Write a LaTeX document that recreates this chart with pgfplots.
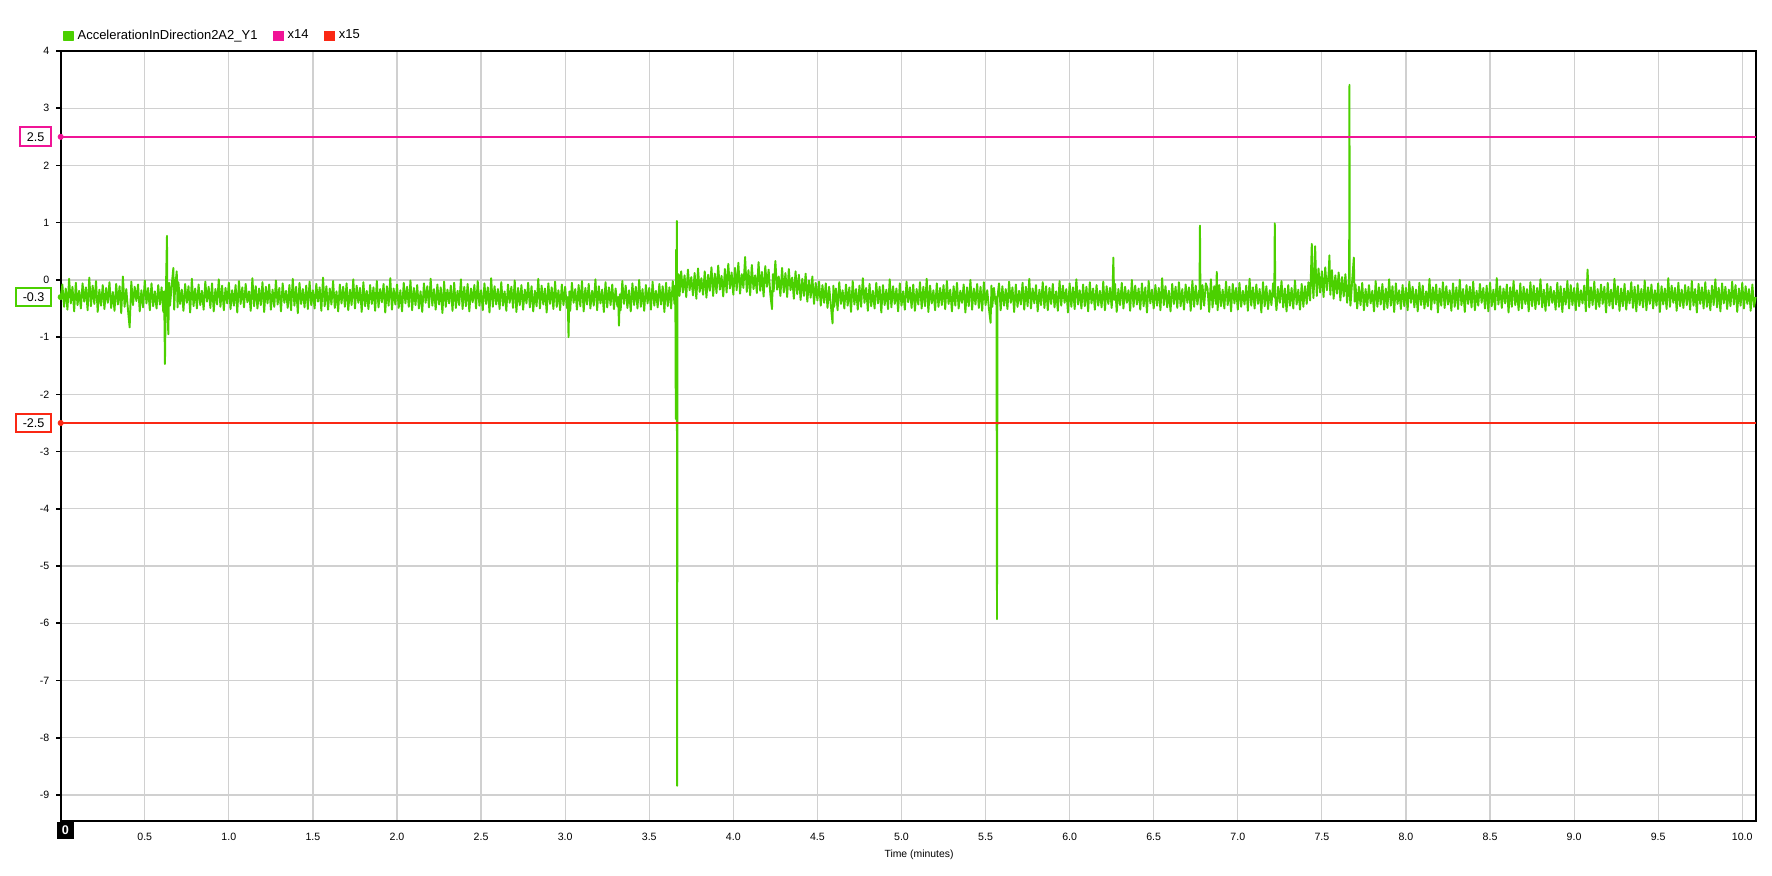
\documentclass[border=0pt]{standalone}
\usepackage{pgfplots}
\pgfplotsset{compat=1.18}
\usepackage{fontspec}
\setmainfont{Liberation Sans}
\definecolor{sig}{RGB}{75,208,0}
\definecolor{hi}{RGB}{240,20,150}
\definecolor{lo}{RGB}{250,40,20}
\definecolor{gridc}{RGB}{208,208,208}

\begin{document}
\begin{tikzpicture}[x=0.5pt,y=0.5pt]
\useasboundingbox (0,0) rectangle (1772,875);
\begin{axis}[
  at={(30.35pt,26.85pt)}, anchor=south west,
  scale only axis, width=847.5pt, height=385.15pt,
  xmin=0, xmax=10.08, ymin=-9.46, ymax=4,
  clip=false,
  axis line style={black, line width=0.9pt},
  grid=major, major grid style={gridc, line width=0.6pt},
  xtick={0.5,1.0,1.5,2.0,2.5,3.0,3.5,4.0,4.5,5.0,5.5,6.0,6.5,7.0,7.5,8.0,8.5,9.0,9.5,10.0},
  ytick={-9,-8,-7,-6,-5,-4,-3,-2,-1,0,1,2,3,4},
  xtick pos=bottom, ytick pos=left,
  x tick style={draw=none},
  y tick style={black, line width=0.8pt},
  tick align=outside, major tick length=2.2pt,
  xticklabel style={/pgf/number format/.cd, fixed, fixed zerofill, precision=1},
  tick label style={font=\fontsize{5.3}{6}\selectfont},
  /pgf/number format/assume math mode=true,
  xlabel={Time (minutes)},
  xlabel style={font=\fontsize{5.2}{6}\selectfont, at={(axis description cs:0.5,0)}, anchor=center, yshift=-16.6pt, xshift=5.4pt},
  legend style={at={(0,1)}, anchor=west, yshift=7.5pt, xshift=0.8pt, draw=none, fill=none, inner sep=0pt,
    font=\fontsize{6.5}{7.5}\selectfont, legend columns=-1,
    /tikz/every even column/.append style={column sep=5.8pt}},
  legend image code/.code={\fill[#1] (0pt,-2.25pt) rectangle (4.5pt,2.25pt);},
]

% measured signal
\addplot[sig, line width=0.95pt, line join=round] coordinates {
(0.00,-0.30)(0.01,-0.08)(0.02,-0.47)(0.03,-0.15)(0.04,-0.52)(0.05,0.02)(0.06,-0.41)(0.07,-0.12)(0.08,-0.55)(0.09,-0.05)
(0.10,-0.44)(0.11,-0.19)(0.12,-0.50)(0.13,-0.06)(0.14,-0.38)(0.15,-0.13)(0.16,-0.53)(0.17,0.04)(0.18,-0.46)(0.19,-0.10)
(0.20,-0.42)(0.21,-0.02)(0.22,-0.56)(0.23,-0.17)(0.24,-0.45)(0.25,-0.09)(0.26,-0.51)(0.27,-0.14)(0.28,-0.40)(0.29,-0.04)
(0.30,-0.49)(0.31,-0.21)(0.32,-0.54)(0.33,-0.07)(0.34,-0.43)(0.35,-0.11)(0.36,-0.58)(0.37,0.06)(0.38,-0.47)(0.39,-0.16)
(0.40,-0.52)(0.41,-0.83)(0.42,-0.03)(0.43,-0.44)(0.44,-0.12)(0.45,-0.37)(0.46,-0.08)(0.47,-0.55)(0.48,-0.18)(0.49,-0.48)
(0.50,-0.01)(0.51,-0.41)(0.52,-0.14)(0.53,-0.53)(0.54,-0.06)(0.55,-0.46)(0.56,-0.20)(0.57,-0.50)(0.58,-0.09)(0.59,-0.43)
(0.60,-0.13)(0.61,-0.56)(0.615,-0.20)(0.62,-1.47)(0.625,-0.30)(0.632,0.77)(0.635,-0.50)(0.64,-0.95)(0.645,-0.05)(0.65,-0.45)(0.66,-0.10)(0.67,0.21)(0.675,-0.52)(0.68,-0.15)(0.69,0.15)(0.695,-0.48)
(0.70,-0.04)(0.71,-0.42)(0.72,-0.17)(0.73,-0.54)(0.74,-0.07)(0.75,-0.40)(0.76,-0.11)(0.77,-0.57)(0.78,0.02)(0.79,-0.46)
(0.80,-0.15)(0.81,-0.50)(0.82,-0.08)(0.83,-0.44)(0.84,-0.19)(0.85,-0.52)(0.86,-0.03)(0.87,-0.38)(0.88,-0.12)(0.89,-0.49)
(0.90,-0.06)(0.91,-0.55)(0.92,-0.16)(0.93,-0.43)(0.94,0.01)(0.95,-0.47)(0.96,-0.10)(0.97,-0.53)(0.98,-0.14)(0.99,-0.41)
(1.00,-0.05)(1.01,-0.51)(1.02,-0.18)(1.03,-0.45)(1.04,-0.09)(1.05,-0.57)(1.06,-0.02)(1.07,-0.42)(1.08,-0.13)(1.09,-0.48)
(1.10,-0.07)(1.11,-0.39)(1.12,-0.20)(1.13,-0.54)(1.14,0.03)(1.15,-0.46)(1.16,-0.11)(1.17,-0.50)(1.18,-0.15)(1.19,-0.44)
(1.20,-0.04)(1.21,-0.56)(1.22,-0.12)(1.23,-0.41)(1.24,-0.08)(1.25,-0.52)(1.26,-0.17)(1.27,-0.47)(1.28,-0.01)(1.29,-0.43)
(1.30,-0.14)(1.31,-0.55)(1.32,-0.06)(1.33,-0.40)(1.34,-0.19)(1.35,-0.49)(1.36,-0.09)(1.37,-0.53)(1.38,0.02)(1.39,-0.45)
(1.40,-0.12)(1.41,-0.58)(1.42,-0.05)(1.43,-0.42)(1.44,-0.16)(1.45,-0.48)(1.46,-0.10)(1.47,-0.51)(1.48,-0.03)(1.49,-0.44)
(1.50,-0.18)(1.51,-0.50)(1.52,-0.07)(1.53,-0.38)(1.54,-0.13)(1.55,-0.54)(1.56,0.04)(1.57,-0.46)(1.58,-0.11)(1.59,-0.52)
(1.60,-0.15)(1.61,-0.43)(1.62,-0.02)(1.63,-0.49)(1.64,-0.20)(1.65,-0.55)(1.66,-0.08)(1.67,-0.41)(1.68,-0.12)(1.69,-0.47)
(1.70,-0.06)(1.71,-0.53)(1.72,-0.17)(1.73,-0.44)(1.74,0.01)(1.75,-0.50)(1.76,-0.10)(1.77,-0.40)(1.78,-0.14)(1.79,-0.56)
(1.80,-0.04)(1.81,-0.46)(1.82,-0.19)(1.83,-0.51)(1.84,-0.09)(1.85,-0.42)(1.86,-0.13)(1.87,-0.54)(1.88,-0.02)(1.89,-0.48)
(1.90,-0.16)(1.91,-0.39)(1.92,-0.07)(1.93,-0.57)(1.94,-0.11)(1.95,-0.45)(1.96,0.03)(1.97,-0.52)(1.98,-0.15)(1.99,-0.43)
(2.00,-0.08)(2.01,-0.49)(2.02,-0.18)(2.03,-0.55)(2.04,-0.05)(2.05,-0.41)(2.06,-0.12)(2.07,-0.47)(2.08,-0.01)(2.09,-0.53)
(2.10,-0.14)(2.11,-0.44)(2.12,-0.09)(2.13,-0.50)(2.14,-0.20)(2.15,-0.56)(2.16,-0.06)(2.17,-0.40)(2.18,-0.11)(2.19,-0.48)
(2.20,0.02)(2.21,-0.45)(2.22,-0.16)(2.23,-0.52)(2.24,-0.08)(2.25,-0.43)(2.26,-0.13)(2.27,-0.58)(2.28,-0.03)(2.29,-0.47)
(2.30,-0.17)(2.31,-0.41)(2.32,-0.10)(2.33,-0.54)(2.34,-0.05)(2.35,-0.49)(2.36,-0.19)(2.37,-0.44)(2.38,0.01)(2.39,-0.51)
(2.40,-0.12)(2.41,-0.46)(2.42,-0.07)(2.43,-0.55)(2.44,-0.15)(2.45,-0.39)(2.46,-0.09)(2.47,-0.50)(2.48,-0.02)(2.49,-0.45)
(2.50,-0.18)(2.51,-0.53)(2.52,-0.06)(2.53,-0.42)(2.54,-0.13)(2.55,-0.57)(2.56,0.03)(2.57,-0.47)(2.58,-0.11)(2.59,-0.43)
(2.60,-0.16)(2.61,-0.51)(2.62,-0.04)(2.63,-0.45)(2.64,-0.20)(2.65,-0.54)(2.66,-0.08)(2.67,-0.40)(2.68,-0.12)(2.69,-0.49)
(2.70,-0.01)(2.71,-0.56)(2.72,-0.14)(2.73,-0.44)(2.74,-0.09)(2.75,-0.52)(2.76,-0.17)(2.77,-0.41)(2.78,-0.05)(2.79,-0.48)
(2.80,-0.11)(2.81,-0.55)(2.82,-0.19)(2.83,-0.46)(2.84,0.02)(2.85,-0.50)(2.86,-0.10)(2.87,-0.43)(2.88,-0.15)(2.89,-0.57)
(2.90,-0.06)(2.91,-0.42)(2.92,-0.13)(2.93,-0.51)(2.94,-0.03)(2.95,-0.47)(2.96,-0.18)(2.97,-0.53)(2.98,-0.08)(2.99,-0.44)
(3.00,-0.12)(3.01,-0.49)(3.015,-0.30)(3.02,-1.00)(3.025,-0.20)(3.03,-0.54)(3.04,-0.05)(3.05,-0.40)(3.06,-0.16)(3.07,-0.52)(3.08,-0.09)(3.09,-0.46)
(3.10,-0.02)(3.11,-0.55)(3.12,-0.14)(3.13,-0.43)(3.14,-0.07)(3.15,-0.50)(3.16,-0.19)(3.17,-0.45)(3.18,0.01)(3.19,-0.53)
(3.20,-0.11)(3.21,-0.41)(3.22,-0.17)(3.23,-0.56)(3.24,-0.04)(3.25,-0.48)(3.26,-0.13)(3.27,-0.44)(3.28,-0.08)(3.29,-0.51)
(3.30,-0.15)(3.31,-0.46)(3.315,-0.30)(3.32,-0.80)(3.325,-0.25)(3.33,-0.53)(3.34,-0.02)(3.35,-0.42)(3.36,-0.10)(3.37,-0.49)(3.38,-0.18)(3.39,-0.55)
(3.40,-0.06)(3.41,-0.44)(3.42,-0.12)(3.43,-0.50)(3.44,0.00)(3.45,-0.47)(3.46,-0.16)(3.47,-0.54)(3.48,-0.09)(3.49,-0.41)
(3.50,-0.14)(3.51,-0.52)(3.52,-0.03)(3.53,-0.45)(3.54,-0.19)(3.55,-0.48)(3.56,-0.07)(3.57,-0.43)(3.58,-0.11)(3.59,-0.56)
(3.60,-0.05)(3.61,-0.46)(3.62,-0.13)(3.63,-0.50)(3.64,-0.02)(3.65,-0.42)(3.655,-0.10)(3.658,-2.43)(3.660,0.53)(3.662,-0.40)(3.664,1.03)(3.666,-8.84)(3.668,-0.20)(3.675,0.10)(3.68,-0.28)(3.69,0.15)
(3.70,-0.22)(3.71,0.08)(3.72,-0.30)(3.73,0.18)(3.74,-0.18)(3.75,0.05)(3.76,-0.27)(3.77,0.12)(3.78,-0.33)(3.79,0.20)
(3.80,-0.21)(3.81,0.03)(3.82,-0.26)(3.83,0.15)(3.84,-0.31)(3.85,0.09)(3.86,-0.19)(3.87,0.22)(3.88,-0.28)(3.89,0.11)
(3.90,-0.23)(3.91,0.25)(3.92,-0.17)(3.93,0.07)(3.94,-0.29)(3.95,0.19)(3.96,-0.22)(3.97,0.28)(3.98,-0.15)(3.99,0.13)
(4.00,-0.26)(4.01,0.21)(4.02,-0.18)(4.03,0.30)(4.04,-0.24)(4.05,0.10)(4.06,-0.14)(4.07,0.40)(4.08,-0.21)(4.09,0.17)
(4.10,-0.27)(4.11,0.26)(4.12,-0.16)(4.13,0.08)(4.14,-0.23)(4.15,0.31)(4.16,-0.19)(4.17,0.14)(4.18,-0.29)(4.19,0.24)
(4.20,-0.12)(4.21,0.18)(4.22,-0.25)(4.23,-0.51)(4.235,0.10)(4.24,-0.20)(4.25,0.33)(4.26,-0.17)(4.27,0.06)(4.28,-0.28)(4.29,0.21)
(4.30,-0.22)(4.31,0.12)(4.32,-0.30)(4.33,0.19)(4.34,-0.18)(4.35,0.04)(4.36,-0.33)(4.37,0.15)(4.38,-0.25)(4.39,0.09)
(4.40,-0.35)(4.41,0.02)(4.42,-0.28)(4.43,0.11)(4.44,-0.38)(4.45,-0.01)(4.46,-0.31)(4.47,0.06)(4.48,-0.42)(4.49,-0.05)
(4.50,-0.36)(4.51,-0.03)(4.52,-0.45)(4.53,-0.09)(4.54,-0.40)(4.55,-0.06)(4.56,-0.49)(4.57,-0.12)(4.58,-0.44)(4.59,-0.76)(4.595,-0.10)
(4.60,-0.47)(4.61,-0.15)(4.62,-0.53)(4.63,-0.04)(4.64,-0.42)(4.65,-0.18)(4.66,-0.50)(4.67,-0.08)(4.68,-0.45)(4.69,-0.13)
(4.70,-0.56)(4.71,-0.02)(4.72,-0.43)(4.73,-0.16)(4.74,-0.52)(4.75,-0.10)(4.76,-0.47)(4.77,0.03)(4.78,-0.40)(4.79,-0.14)
(4.80,-0.54)(4.81,-0.07)(4.82,-0.46)(4.83,-0.19)(4.84,-0.50)(4.85,-0.05)(4.86,-0.41)(4.87,-0.12)(4.88,-0.57)(4.89,-0.09)
(4.90,-0.44)(4.91,-0.17)(4.92,-0.51)(4.93,0.01)(4.94,-0.48)(4.95,-0.11)(4.96,-0.42)(4.97,-0.15)(4.98,-0.55)(4.99,-0.06)
(5.00,-0.45)(5.01,-0.20)(5.02,-0.52)(5.03,-0.03)(5.04,-0.39)(5.05,-0.13)(5.06,-0.49)(5.07,-0.08)(5.08,-0.54)(5.09,-0.16)
(5.10,-0.43)(5.11,-0.04)(5.12,-0.50)(5.13,-0.12)(5.14,-0.46)(5.15,0.02)(5.16,-0.56)(5.17,-0.10)(5.18,-0.41)(5.19,-0.18)
(5.20,-0.53)(5.21,-0.06)(5.22,-0.47)(5.23,-0.14)(5.24,-0.44)(5.25,-0.09)(5.26,-0.51)(5.27,-0.02)(5.28,-0.42)(5.29,-0.17)
(5.30,-0.55)(5.31,-0.11)(5.32,-0.45)(5.33,-0.05)(5.34,-0.50)(5.35,-0.19)(5.36,-0.40)(5.37,-0.08)(5.38,-0.57)(5.39,-0.13)
(5.40,-0.46)(5.41,0.00)(5.42,-0.52)(5.43,-0.15)(5.44,-0.43)(5.45,-0.07)(5.46,-0.49)(5.47,-0.12)(5.48,-0.54)(5.49,-0.04)
(5.50,-0.44)(5.51,-0.18)(5.52,-0.50)(5.53,-0.75)(5.535,-0.10)(5.54,-0.47)(5.55,-0.14)(5.56,-0.42)(5.565,-0.30)(5.568,-5.93)(5.571,-0.30)(5.58,-0.06)(5.59,-0.53)
(5.60,-0.11)(5.61,-0.45)(5.62,-0.16)(5.63,-0.51)(5.64,-0.03)(5.65,-0.40)(5.66,-0.13)(5.67,-0.56)(5.68,-0.08)(5.69,-0.47)
(5.70,-0.19)(5.71,-0.43)(5.72,-0.05)(5.73,-0.52)(5.74,-0.12)(5.75,-0.46)(5.76,0.02)(5.77,-0.50)(5.78,-0.15)(5.79,-0.41)
(5.80,-0.09)(5.81,-0.55)(5.82,-0.17)(5.83,-0.44)(5.84,-0.04)(5.85,-0.49)(5.86,-0.11)(5.87,-0.53)(5.88,-0.14)(5.89,-0.42)
(5.90,-0.07)(5.91,-0.48)(5.92,-0.20)(5.93,-0.54)(5.94,-0.02)(5.95,-0.45)(5.96,-0.10)(5.97,-0.40)(5.98,-0.16)(5.99,-0.57)
(6.00,-0.06)(6.01,-0.47)(6.02,-0.13)(6.03,-0.51)(6.04,0.01)(6.05,-0.43)(6.06,-0.18)(6.07,-0.50)(6.08,-0.08)(6.09,-0.46)
(6.10,-0.12)(6.11,-0.55)(6.12,-0.04)(6.13,-0.41)(6.14,-0.15)(6.15,-0.52)(6.16,-0.09)(6.17,-0.45)(6.18,-0.19)(6.19,-0.48)
(6.20,-0.03)(6.21,-0.53)(6.22,-0.11)(6.23,-0.42)(6.24,-0.14)(6.25,-0.49)(6.255,-0.25)(6.26,0.39)(6.265,-0.35)(6.27,-0.07)(6.28,-0.56)(6.29,-0.16)
(6.30,-0.44)(6.31,-0.05)(6.32,-0.50)(6.33,-0.12)(6.34,-0.40)(6.35,-0.18)(6.36,-0.54)(6.37,0.00)(6.38,-0.47)(6.39,-0.10)
(6.40,-0.43)(6.41,-0.15)(6.42,-0.52)(6.43,-0.06)(6.44,-0.46)(6.45,-0.13)(6.46,-0.57)(6.47,-0.02)(6.48,-0.41)(6.49,-0.17)
(6.50,-0.50)(6.51,-0.09)(6.52,-0.45)(6.53,-0.14)(6.54,-0.53)(6.55,0.03)(6.56,-0.44)(6.57,-0.11)(6.58,-0.48)(6.59,-0.19)
(6.60,-0.55)(6.61,-0.07)(6.62,-0.42)(6.63,-0.12)(6.64,-0.49)(6.65,-0.04)(6.66,-0.46)(6.67,-0.16)(6.68,-0.52)(6.69,-0.08)
(6.70,-0.40)(6.71,-0.13)(6.72,-0.54)(6.73,-0.02)(6.74,-0.47)(6.75,-0.10)(6.76,-0.43)(6.77,-0.18)(6.772,-0.30)(6.775,0.95)(6.778,-0.30)(6.78,-0.51)(6.79,-0.09)
(6.80,-0.45)(6.81,-0.06)(6.82,-0.15)(6.83,-0.56)(6.84,0.01)(6.85,-0.48)(6.86,-0.11)(6.87,-0.42)(6.875,0.14)(6.88,-0.53)(6.89,-0.09)
(6.90,-0.46)(6.91,-0.17)(6.92,-0.50)(6.93,-0.03)(6.94,-0.44)(6.95,-0.12)(6.96,-0.55)(6.97,-0.07)(6.98,-0.41)(6.99,-0.14)
(7.00,-0.52)(7.01,-0.05)(7.02,-0.47)(7.03,-0.19)(7.04,-0.43)(7.05,-0.10)(7.06,-0.54)(7.07,0.02)(7.08,-0.45)(7.09,-0.13)
(7.10,-0.50)(7.11,-0.08)(7.12,-0.42)(7.13,-0.16)(7.14,-0.57)(7.15,-0.04)(7.16,-0.46)(7.17,-0.11)(7.18,-0.51)(7.19,-0.18)
(7.20,-0.44)(7.21,-0.06)(7.217,-0.30)(7.22,0.99)(7.223,-0.30)(7.23,-0.53)(7.24,-0.12)(7.25,-0.40)(7.26,-0.02)(7.27,-0.48)(7.28,-0.15)(7.29,-0.55)
(7.30,-0.09)(7.31,-0.45)(7.32,-0.14)(7.33,-0.50)(7.34,-0.01)(7.35,-0.43)(7.36,-0.17)(7.37,-0.52)(7.38,-0.07)(7.39,-0.47)
(7.40,-0.11)(7.41,-0.42)(7.42,-0.04)(7.43,-0.36)(7.435,0.10)(7.44,0.63)(7.445,-0.05)(7.45,-0.32)(7.455,0.05)(7.46,0.59)(7.465,0.08)(7.47,-0.28)(7.48,0.20)(7.49,-0.22)
(7.50,0.15)(7.51,-0.30)(7.52,0.22)(7.53,-0.18)(7.54,0.10)(7.545,0.43)(7.55,-0.26)(7.56,0.17)(7.57,-0.33)(7.58,0.08)(7.59,-0.24)
(7.60,0.13)(7.61,-0.36)(7.62,0.05)(7.63,-0.29)(7.64,0.10)(7.65,-0.40)(7.66,0.00)(7.662,-0.20)(7.664,3.41)(7.666,-0.25)(7.67,-0.45)(7.68,-0.03)(7.69,0.39)(7.695,-0.38)
(7.70,-0.08)(7.71,-0.50)(7.72,-0.12)(7.73,-0.44)(7.74,-0.05)(7.75,-0.53)(7.76,-0.16)(7.77,-0.46)(7.78,-0.09)(7.79,-0.41)
(7.80,-0.19)(7.81,-0.55)(7.82,-0.02)(7.83,-0.47)(7.84,-0.13)(7.85,-0.43)(7.86,-0.07)(7.87,-0.52)(7.88,-0.15)(7.89,-0.49)
(7.90,0.01)(7.91,-0.45)(7.92,-0.11)(7.93,-0.56)(7.94,-0.06)(7.95,-0.42)(7.96,-0.18)(7.97,-0.51)(7.98,-0.09)(7.99,-0.46)
(8.00,-0.14)(8.01,-0.53)(8.02,-0.03)(8.03,-0.40)(8.04,-0.12)(8.05,-0.48)(8.06,-0.17)(8.07,-0.55)(8.08,-0.05)(8.09,-0.44)
(8.10,-0.10)(8.11,-0.50)(8.12,-0.20)(8.13,-0.46)(8.14,0.02)(8.15,-0.52)(8.16,-0.13)(8.17,-0.41)(8.18,-0.08)(8.19,-0.57)
(8.20,-0.15)(8.21,-0.45)(8.22,-0.04)(8.23,-0.49)(8.24,-0.11)(8.25,-0.43)(8.26,-0.18)(8.27,-0.54)(8.28,-0.06)(8.29,-0.47)
(8.30,-0.13)(8.31,-0.51)(8.32,0.00)(8.33,-0.44)(8.34,-0.16)(8.35,-0.56)(8.36,-0.09)(8.37,-0.42)(8.38,-0.12)(8.39,-0.48)
(8.40,-0.03)(8.41,-0.53)(8.42,-0.19)(8.43,-0.45)(8.44,-0.07)(8.45,-0.40)(8.46,-0.14)(8.47,-0.50)(8.48,-0.10)(8.49,-0.55)
(8.50,-0.05)(8.51,-0.46)(8.52,-0.17)(8.53,-0.52)(8.54,0.03)(8.55,-0.43)(8.56,-0.11)(8.57,-0.49)(8.58,-0.15)(8.59,-0.41)
(8.60,-0.08)(8.61,-0.57)(8.62,-0.13)(8.63,-0.47)(8.64,-0.02)(8.65,-0.44)(8.66,-0.18)(8.67,-0.53)(8.68,-0.06)(8.69,-0.50)
(8.70,-0.12)(8.71,-0.42)(8.72,-0.16)(8.73,-0.55)(8.74,-0.04)(8.75,-0.46)(8.76,-0.10)(8.77,-0.51)(8.78,-0.14)(8.79,-0.43)
(8.80,0.01)(8.81,-0.48)(8.82,-0.17)(8.83,-0.54)(8.84,-0.07)(8.85,-0.45)(8.86,-0.12)(8.87,-0.40)(8.88,-0.19)(8.89,-0.52)
(8.90,-0.05)(8.91,-0.47)(8.92,-0.11)(8.93,-0.56)(8.94,-0.15)(8.95,-0.43)(8.96,-0.02)(8.97,-0.50)(8.98,-0.09)(8.99,-0.44)
(9.00,-0.14)(9.01,-0.53)(9.02,-0.06)(9.03,-0.46)(9.04,-0.18)(9.05,-0.41)(9.06,-0.10)(9.07,-0.55)(9.08,0.18)(9.09,-0.48)
(9.10,-0.13)(9.11,-0.44)(9.12,-0.03)(9.13,-0.51)(9.14,-0.16)(9.15,-0.47)(9.16,-0.08)(9.17,-0.42)(9.18,-0.12)(9.19,-0.57)
(9.20,-0.05)(9.21,-0.45)(9.22,-0.17)(9.23,-0.50)(9.24,0.02)(9.25,-0.43)(9.26,-0.11)(9.27,-0.54)(9.28,-0.15)(9.29,-0.46)
(9.30,-0.07)(9.31,-0.52)(9.32,-0.19)(9.33,-0.41)(9.34,-0.04)(9.35,-0.49)(9.36,-0.12)(9.37,-0.55)(9.38,-0.09)(9.39,-0.44)
(9.40,-0.16)(9.41,-0.48)(9.42,-0.01)(9.43,-0.53)(9.44,-0.13)(9.45,-0.42)(9.46,-0.08)(9.47,-0.50)(9.48,-0.18)(9.49,-0.45)
(9.50,-0.06)(9.51,-0.56)(9.52,-0.11)(9.53,-0.43)(9.54,-0.15)(9.55,-0.51)(9.56,0.03)(9.57,-0.47)(9.58,-0.10)(9.59,-0.40)
(9.60,-0.14)(9.61,-0.54)(9.62,-0.05)(9.63,-0.46)(9.64,-0.17)(9.65,-0.49)(9.66,-0.09)(9.67,-0.44)(9.68,-0.12)(9.69,-0.52)
(9.70,-0.02)(9.71,-0.45)(9.72,-0.16)(9.73,-0.57)(9.74,-0.07)(9.75,-0.42)(9.76,-0.13)(9.77,-0.50)(9.78,-0.04)(9.79,-0.47)
(9.80,-0.18)(9.81,-0.53)(9.82,-0.10)(9.83,-0.44)(9.84,0.01)(9.85,-0.48)(9.86,-0.14)(9.87,-0.55)(9.88,-0.06)(9.89,-0.41)
(9.90,-0.12)(9.91,-0.51)(9.92,-0.17)(9.93,-0.46)(9.94,-0.03)(9.95,-0.43)(9.96,-0.09)(9.97,-0.56)(9.98,-0.15)(9.99,-0.45)
(10.00,-0.05)(10.01,-0.50)(10.02,-0.11)(10.03,-0.42)(10.04,-0.16)(10.05,-0.54)(10.06,-0.08)(10.07,-0.47)(10.08,-0.30)
};
\addlegendentry{AccelerationInDirection2A2\_Y1}

% limit lines
\addplot[hi, line width=0.8pt] coordinates {(0,2.5)(10.08,2.5)};
\addlegendentry{x14}
\addplot[lo, line width=0.8pt] coordinates {(0,-2.5)(10.08,-2.5)};
\addlegendentry{x15}

% value markers on the y axis
\addplot[hi, only marks, mark=*, mark size=1.3pt, forget plot] coordinates {(0,2.5)};
\addplot[sig, only marks, mark=*, mark size=1.3pt, forget plot] coordinates {(0,-0.3)};
\addplot[lo, only marks, mark=*, mark size=1.3pt, forget plot] coordinates {(0,-2.5)};

\node[draw=hi, line width=1pt, fill=white, anchor=east, xshift=-4.2pt, minimum height=9.35pt, inner xsep=3.4pt, inner ysep=0pt, font=\fontsize{6.3}{7}\selectfont] at (axis cs:0,2.5) {2.5};
\node[draw=sig, line width=1pt, fill=white, anchor=east, xshift=-4.2pt, minimum height=9.35pt, inner xsep=3.4pt, inner ysep=0pt, font=\fontsize{6.3}{7}\selectfont] at (axis cs:0,-0.3) {-0.3};
\node[draw=lo, line width=1pt, fill=white, anchor=east, xshift=-4.2pt, minimum height=9.35pt, inner xsep=3.4pt, inner ysep=0pt, font=\fontsize{6.3}{7}\selectfont] at (axis cs:0,-2.5) {-2.5};
\node[fill=black, text=white, minimum width=8.8pt, minimum height=8.8pt, inner sep=0pt, xshift=2.4pt, yshift=-4.6pt, font=\bfseries\fontsize{6.3}{7}\selectfont] at (axis cs:0,-9.46) {0};
\end{axis}
\end{tikzpicture}
\end{document}
